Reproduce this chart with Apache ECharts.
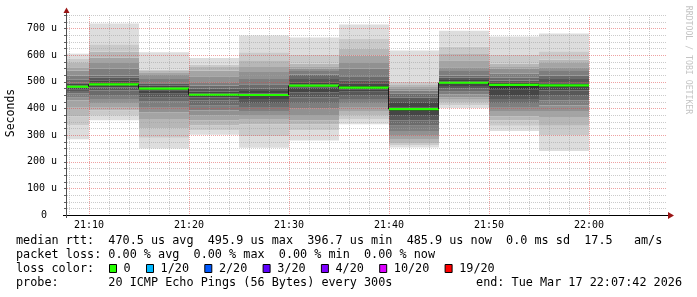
<!DOCTYPE html>
<html><head><meta charset="utf-8">
<script src="https://cdn.jsdelivr.net/npm/echarts@6/dist/echarts.min.js"></script>
<style>html,body{margin:0;padding:0;background:#fff}#c{width:697px;height:297px}</style>
</head><body><div id="c"></div>
<script>
// ---- data ----
const axisStart = '21:07:42';
const axisEnd = '22:07:42';
const xTickLabels = ['21:10', '21:20', '21:30', '21:40', '21:50', '22:00'];
const yTickValues = [0, 100, 200, 300, 400, 500, 600, 700];
const binEnds = ['21:10', '21:15', '21:20', '21:25', '21:30', '21:35', '21:40', '21:45', '21:50', '21:55', '22:00'];
const binSeconds = 300;
// 20 sorted ping RTTs (microseconds) per 5-minute step
const pings2110 = [284, 336, 370, 405, 430, 442, 455, 465, 472, 478, 486, 492, 497, 507, 523, 542, 554, 573, 585, 605];
const pings2115 = [355, 372, 392, 405, 420, 435, 450, 467, 478, 488, 496, 505, 515, 523, 548, 570, 590, 612, 640, 718];
const pings2120 = [249, 290, 325, 360, 385, 405, 425, 440, 455, 468, 478, 485, 492, 498, 510, 525, 535, 540, 545, 610];
const pings2125 = [301, 318, 336, 355, 374, 392, 410, 430, 442, 450, 455, 462, 473, 486, 498, 520, 542, 555, 564, 589];
const pings2130 = [252, 295, 340, 360, 375, 390, 405, 420, 435, 447, 456, 465, 475, 490, 510, 536, 555, 580, 610, 673];
const pings2135 = [279, 318, 340, 355, 375, 399, 420, 442, 460, 478, 490, 498, 510, 527, 540, 548, 558, 567, 600, 666];
const pings2140 = [340, 358, 375, 390, 405, 420, 435, 450, 462, 472, 484, 494, 505, 520, 548, 570, 598, 623, 660, 714];
const pings2145 = [253, 262, 270, 285, 300, 315, 335, 355, 375, 390, 402, 420, 440, 455, 467, 475, 480, 490, 501, 617];
const pings2150 = [401, 412, 424, 435, 442, 452, 462, 473, 484, 492, 500, 506, 515, 523, 540, 554, 580, 604, 632, 691];
const pings2155 = [315, 335, 355, 370, 390, 405, 420, 435, 450, 470, 490, 498, 504, 515, 530, 548, 555, 567, 600, 669];
const pings2200 = [240, 299, 335, 365, 390, 411, 430, 450, 467, 480, 492, 498, 510, 523, 540, 554, 570, 582, 614, 681];
const medianRtt = [481, 490, 474, 451, 450, 485, 478, 396.7, 495.9, 488, 485.9];
const lossLabels = ['0', '1/20', '2/20', '3/20', '4/20', '10/20', '19/20'];
const lossColors = ['#26ff00', '#00b8ff', '#0059ff', '#5e00ff', '#7e00ff', '#dd00ff', '#ff0000'];
const legendLine1 = 'median rtt:  470.5 us avg  495.9 us max  396.7 us min  485.9 us now  0.0 ms sd  17.5   am/s';
const legendLine2 = 'packet loss: 0.00 % avg  0.00 % max  0.00 % min  0.00 % now';
const legendLine3 = 'loss color:';
const legendLine4 = 'probe:       20 ICMP Echo Pings (56 Bytes) every 300s';
const legendEnd = 'end: Tue Mar 17 22:07:42 2026';

// ---- build ----
const allPings = [pings2110, pings2115, pings2120, pings2125, pings2130, pings2135, pings2140, pings2145, pings2150, pings2155, pings2200];
function toMin(s) { const p = s.split(':').map(Number); return (p[0] - 21) * 60 + p[1] + (p[2] || 0) / 60; }
const xMin = toMin(axisStart), xMax = toMin(axisEnd);
const yMin = 0, yMax = 750;
const half = 10;
function grey(d) { const c = Math.floor(190 / half * (half - d)) + 50; return 'rgb(' + c + ',' + c + ',' + c + ')'; }

const smokeData = [];
allPings.forEach((arr, b) => {
  const end = toMin(binEnds[b]), start = end - binSeconds / 60;
  for (let i = 0; i < arr.length - 1; i++) {
    const d = Math.min(i + 1, arr.length - 1 - i);
    smokeData.push([start, end, arr[i], arr[i + 1], d]);
  }
});
const medianData = medianRtt.map((m, b) => {
  const end = toMin(binEnds[b]), start = end - binSeconds / 60;
  return [start, end, m, b > 0 ? medianRtt[b - 1] : -1];
});
const gridData = [];
for (let m = Math.ceil(xMin / 2) * 2; m <= xMax; m += 2) gridData.push([0, m, m % 10 === 0 ? 1 : 0]);
for (let v = 25; v <= yMax; v += 25) gridData.push([1, v, v % 100 === 0 && v < yMax ? 1 : 0]);

const chart = echarts.init(document.getElementById('c'), null, { renderer: 'canvas' });
const mono = '"DejaVu Sans Mono", monospace';
const legendFont = '11.8px ' + mono;

const graphics = [
  { type: 'line', shape: { x1: 63, y1: 215.5, x2: 669, y2: 215.5 }, style: { stroke: '#000', lineWidth: 1 }, z: 100 },
  { type: 'polygon', shape: { points: [[668, 212], [674, 215.5], [668, 219]] }, style: { fill: '#9a1414' }, z: 100 },
  { type: 'line', shape: { x1: 66.5, y1: 218, x2: 66.5, y2: 12 }, style: { stroke: '#505050', lineWidth: 1 }, z: 100 },
  { type: 'polygon', shape: { points: [[63.5, 13], [66.5, 7.5], [69.5, 13]] }, style: { fill: '#9a1414' }, z: 100 },
  { type: 'text', x: 11, y: 113, rotation: Math.PI / 2, style: { text: 'Seconds', font: '11.5px ' + mono, fill: '#000', align: 'center', verticalAlign: 'middle' } },
  { type: 'text', x: 688, y: 60, rotation: -Math.PI / 2, style: { text: 'RRDTOOL / TOBI OETIKER', font: '8.2px ' + mono, fill: '#c4c4c4', align: 'center', verticalAlign: 'middle' } },
  { type: 'text', x: 16, y: 241, style: { text: legendLine1, font: legendFont, fill: '#000', verticalAlign: 'middle' } },
  { type: 'text', x: 16, y: 255, style: { text: legendLine2, font: legendFont, fill: '#000', verticalAlign: 'middle' } },
  { type: 'text', x: 16, y: 269, style: { text: legendLine3, font: legendFont, fill: '#000', verticalAlign: 'middle' } },
  { type: 'text', x: 16, y: 283, style: { text: legendLine4, font: legendFont, fill: '#000', verticalAlign: 'middle' } },
  { type: 'text', x: 682, y: 283, style: { text: legendEnd, font: legendFont, fill: '#000', align: 'right', verticalAlign: 'middle' } }
];
let bx = 109;
lossLabels.forEach((lab, i) => {
  graphics.push({ type: 'rect', shape: { x: bx + 0.5, y: 264.5, width: 7, height: 8 }, style: { fill: lossColors[i], stroke: '#000', lineWidth: 1 } });
  const lx = bx + 14.6;
  graphics.push({ type: 'text', x: lx, y: 269, style: { text: lab, font: legendFont, fill: '#000', verticalAlign: 'middle' } });
  bx = lx + lab.length * 7.1 + 15.3;
});

chart.setOption({
  animation: false,
  backgroundColor: '#fff',
  grid: { left: 66, top: 15, width: 600, height: 200 },
  xAxis: {
    type: 'value', min: xMin, max: xMax,
    axisLine: { show: false }, axisTick: { show: false }, splitLine: { show: false },
    axisLabel: {
      customValues: xTickLabels.map(toMin), margin: 5,
      fontFamily: 'DejaVu Sans Mono', fontSize: 10, color: '#000',
      formatter: v => { const h = 21 + Math.floor(v / 60), m = Math.round(v % 60); return h + ':' + (m < 10 ? '0' : '') + m; }
    }
  },
  yAxis: {
    type: 'value', min: yMin, max: yMax,
    axisLine: { show: false }, axisTick: { show: false }, splitLine: { show: false },
    axisLabel: {
      customValues: yTickValues, margin: 9,
      fontFamily: 'DejaVu Sans Mono', fontSize: 10, color: '#000',
      formatter: v => v === 0 ? '{z|0}' : v + ' u',
      rich: { z: { fontFamily: 'DejaVu Sans Mono', fontSize: 10, color: '#000', padding: [0, 10, 0, 0] } }
    }
  },
  series: [
    {
      type: 'custom', name: 'smoke', data: smokeData, z: 2,
      renderItem: (params, api) => {
        const p1 = api.coord([api.value(0), api.value(3)]);
        const p2 = api.coord([api.value(1), api.value(2)]);
        const r = echarts.graphic.clipRectByRect({ x: p1[0], y: p1[1], width: p2[0] - p1[0], height: p2[1] - p1[1] }, params.coordSys);
        if (!r) return null;
        return { type: 'rect', shape: r, style: { fill: grey(api.value(4)) } };
      }
    },
    {
      type: 'custom', name: 'grid', data: gridData, z: 5,
      renderItem: (params, api) => {
        const cs = params.coordSys;
        const kind = api.value(0), v = api.value(1), major = api.value(2);
        const col = major ? 'rgba(222,70,70,0.5)' : 'rgba(160,160,160,0.55)';
        if (kind === 0) {
          const x = Math.round(api.coord([v, 0])[0]) + 0.5;
          return { type: 'line', shape: { x1: x, y1: cs.y, x2: x, y2: cs.y + cs.height }, style: { stroke: col, lineWidth: 1, lineDash: [1, 1] } };
        }
        const y = Math.round(api.coord([xMin, v])[1]) + 0.5;
        return {
          type: 'group', children: [
            { type: 'line', shape: { x1: cs.x + 1, y1: y, x2: cs.x + cs.width, y2: y }, style: { stroke: col, lineWidth: 1, lineDash: [1, 1] } },
            { type: 'line', shape: { x1: cs.x - 2, y1: y, x2: cs.x, y2: y }, style: { stroke: '#606060', lineWidth: 1 } }
          ]
        };
      }
    },
    {
      type: 'custom', name: 'median', data: medianData, z: 8,
      renderItem: (params, api) => {
        const cs = params.coordSys;
        const a = api.coord([api.value(0), api.value(2)]);
        const b = api.coord([api.value(1), api.value(2)]);
        const x1 = Math.max(a[0], cs.x + 1);
        const children = [];
        const prev = api.value(3);
        if (prev >= 0) {
          const py = api.coord([api.value(0), prev])[1];
          const vx = Math.round(a[0]) - 0.5;
          children.push({ type: 'line', shape: { x1: vx, y1: py, x2: vx, y2: a[1] }, style: { stroke: '#1a1a1a', lineWidth: 1 } });
        }
        children.push({ type: 'line', shape: { x1: x1, y1: a[1], x2: b[0], y2: b[1] }, style: { stroke: lossColors[0], lineWidth: 2.2 } });
        return { type: 'group', children: children };
      }
    }
  ],
  graphic: graphics
});
</script></body></html>
